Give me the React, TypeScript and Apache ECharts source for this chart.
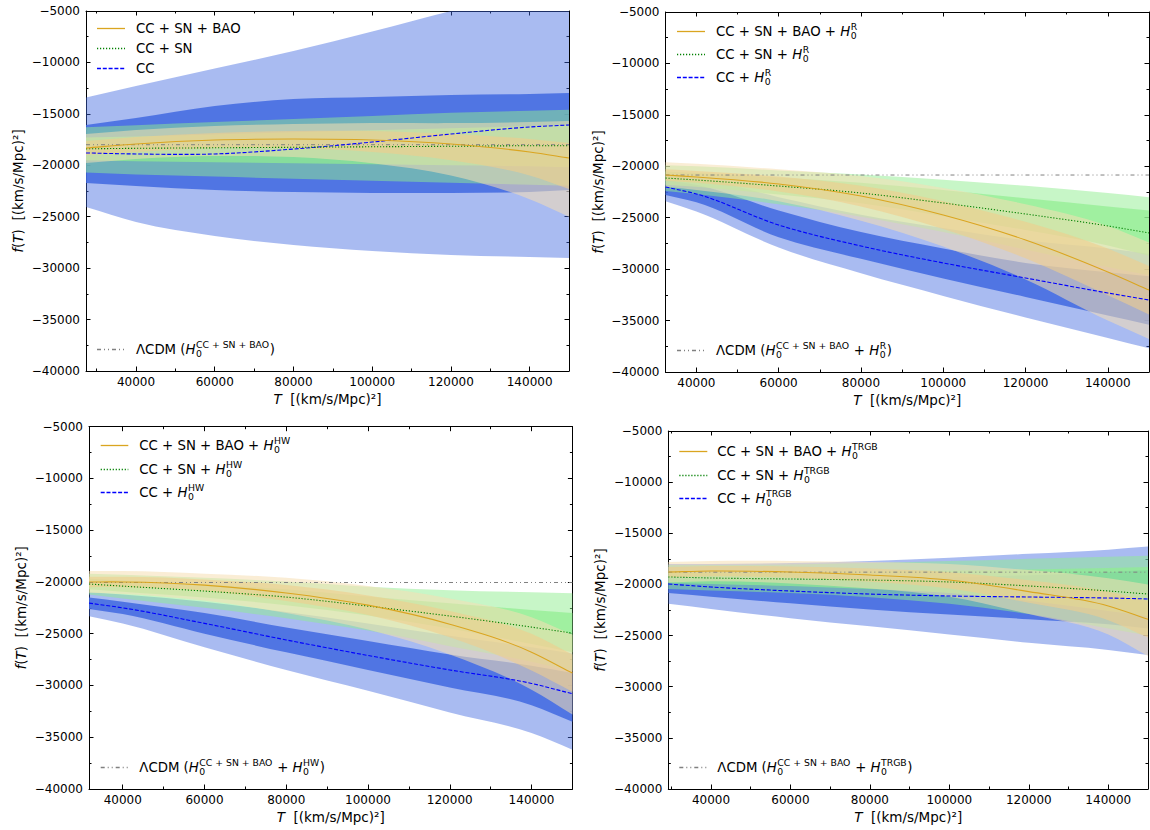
import React, { useEffect, useRef } from 'react';
import * as echarts from 'echarts';

// ---------------- tick values ----------------
const X_MAJOR_TICKS = [40000, 60000, 80000, 100000, 120000, 140000];
const X_MINOR_TICKS = [30000, 50000, 70000, 90000, 110000, 130000, 150000];
const X_MAX = 150000;
const Y_MIN = -40000;
const Y_MAX = -5000;
const Y_STEP = 5000;

// ---------------- Panel 1: CC / CC+SN / CC+SN+BAO ----------------
const T_P1 = [27300, 40000, 60000, 80000, 100000, 120000, 140000, 150000];
const P1_CC_MEAN = [-18800, -18900, -18900, -18420, -17740, -16960, -16280, -16080];
const P1_CC_HI1 = [-16080, -15400, -14240, -13560, -13360, -13170, -13070, -12970];
const P1_CC_LO1 = [-21720, -22010, -22400, -22600, -22690, -22690, -22600, -22400];
const P1_CC_HI2 = [-13400, -12300, -10600, -8900, -7000, -5000, -3300, -2500];
const P1_CC_LO2 = [-24050, -25510, -26870, -27750, -28330, -28720, -28920, -29010];
const P1_SN_MEAN = [-18400, -18350, -18300, -18250, -18200, -18150, -18100, -18100];
const P1_SN_HI1 = [-17300, -17200, -17000, -16800, -16600, -16400, -16200, -16100];
const P1_SN_LO1 = [-19500, -19600, -19700, -19800, -19900, -20000, -20100, -20200];
const P1_SN_HI2 = [-16300, -16100, -15800, -15500, -15200, -14900, -14700, -14600];
const P1_SN_LO2 = [-20700, -20900, -21100, -21300, -21500, -21700, -21900, -22000];
const P1_BAO_MEAN = [-18320, -17930, -17540, -17450, -17540, -17930, -18710, -19290];
const P1_BAO_HI1 = [-17640, -17250, -16860, -16670, -16670, -16960, -17440, -17830];
const P1_BAO_LO1 = [-19000, -18710, -18320, -18350, -18700, -19500, -21000, -22300];
const P1_BAO_HI2 = [-16960, -16570, -16180, -15990, -15890, -15900, -15800, -15700];
const P1_BAO_LO2 = [-19780, -19390, -19100, -19200, -19800, -21000, -23300, -25000];
const P1_LCDM = -18000;

// ---------------- Panel 2: + H0^R ----------------
const T_P2 = [32500, 40000, 60000, 80000, 100000, 120000, 140000, 150000];
const P2_CC_MEAN = [-22010, -22690, -25710, -27750, -29400, -30860, -32320, -33000];
const P2_CC_HI1 = [-21300, -21800, -24300, -26400, -28000, -29400, -30300, -30700];
const P2_CC_LO1 = [-22800, -23500, -26900, -29000, -30900, -32700, -34500, -35400];
const P2_CC_HI2 = [-20800, -21100, -23000, -24700, -26000, -27200, -28000, -28500];
const P2_CC_LO2 = [-23400, -24400, -27900, -30400, -32600, -34700, -36700, -37700];
const P2_SN_MEAN = [-21140, -21330, -21920, -22600, -23570, -24640, -25800, -26480];
const P2_SN_HI1 = [-20500, -20650, -21100, -21600, -22300, -23100, -23900, -24300];
const P2_SN_LO1 = [-21800, -22000, -22750, -23600, -24850, -26200, -27700, -28700];
const P2_SN_HI2 = [-19900, -20000, -20400, -20800, -21300, -21900, -22600, -23000];
const P2_SN_LO2 = [-22400, -22700, -23700, -24900, -26400, -28100, -29800, -30600];
const P2_BAO_MEAN = [-20850, -21040, -21720, -22890, -24740, -27170, -30280, -32030];
const P2_BAO_HI1 = [-20300, -20450, -21000, -21900, -23400, -25400, -28000, -29700];
const P2_BAO_LO1 = [-21400, -21600, -22450, -23900, -26100, -28950, -32550, -34400];
const P2_BAO_HI2 = [-19600, -19750, -20300, -20950, -22100, -23700, -25800, -27400];
const P2_BAO_LO2 = [-22000, -22300, -23400, -25300, -27800, -31000, -35000, -36800];
const P2_LCDM = -20850;

// ---------------- Panel 3: + H0^HW ----------------
const T_P3 = [31750, 40000, 60000, 80000, 100000, 120000, 140000, 150000];
const P3_CC_MEAN = [-22040, -22500, -24000, -25600, -27100, -28500, -29800, -30800];
const P3_CC_HI1 = [-21500, -21900, -23000, -24400, -25700, -27000, -28100, -28800];
const P3_CC_LO1 = [-22600, -23100, -25000, -26800, -28500, -30200, -31900, -33500];
const P3_CC_HI2 = [-21000, -21200, -21900, -22900, -24000, -25200, -26300, -26900];
const P3_CC_LO2 = [-23300, -24000, -26300, -28500, -30500, -32600, -34600, -36200];
const P3_SN_MEAN = [-20200, -20400, -20880, -21460, -22330, -23290, -24360, -24940];
const P3_SN_HI1 = [-19700, -19850, -20250, -20700, -21400, -22050, -22700, -23000];
const P3_SN_LO1 = [-20700, -20950, -21500, -22250, -23250, -24500, -26000, -26800];
const P3_SN_HI2 = [-19200, -19300, -19600, -19950, -20450, -20800, -21000, -21100];
const P3_SN_LO2 = [-21200, -21600, -22500, -23500, -24700, -26200, -27700, -28600];
const P3_BAO_MEAN = [-20000, -20000, -20300, -21070, -22240, -24080, -26780, -28800];
const P3_BAO_HI1 = [-19500, -19500, -19750, -20300, -21300, -22800, -25000, -27000];
const P3_BAO_LO1 = [-20500, -20500, -20850, -21850, -23200, -25350, -28550, -30600];
const P3_BAO_HI2 = [-18950, -18950, -19200, -19600, -20400, -21600, -23400, -25100];
const P3_BAO_LO2 = [-21050, -21150, -21800, -23000, -24600, -27000, -30400, -32800];
const P3_LCDM = -20050;

// ---------------- Panel 4: + H0^TRGB ----------------
const T_P4 = [29260, 40000, 60000, 80000, 100000, 120000, 140000, 150000];
const P4_CC_MEAN = [-19960, -20250, -20640, -20940, -21130, -21230, -21330, -21420];
const P4_CC_HI1 = [-19100, -19250, -19400, -19400, -19300, -19100, -18800, -18600];
const P4_CC_LO1 = [-20850, -21200, -21850, -22450, -22950, -23400, -23900, -24300];
const P4_CC_HI2 = [-18000, -18000, -17900, -17700, -17400, -17000, -16600, -16300];
const P4_CC_LO2 = [-21900, -22400, -23300, -24100, -24900, -25700, -26400, -26900];
const P4_SN_MEAN = [-19270, -19370, -19470, -19570, -19760, -20150, -20640, -20940];
const P4_SN_HI1 = [-18700, -18750, -18750, -18700, -18650, -18550, -18400, -18300];
const P4_SN_LO1 = [-19850, -19950, -20150, -20450, -20850, -21600, -22600, -23100];
const P4_SN_HI2 = [-18100, -18100, -18050, -17900, -17700, -17500, -17300, -17200];
const P4_SN_LO2 = [-20450, -20600, -20850, -21250, -21900, -22900, -24300, -25000];
const P4_BAO_MEAN = [-18790, -18690, -18790, -19080, -19570, -20700, -22100, -23400];
const P4_BAO_HI1 = [-18300, -18200, -18250, -18450, -18800, -19600, -20700, -21600];
const P4_BAO_LO1 = [-19300, -19200, -19350, -19750, -20400, -21800, -23500, -25200];
const P4_BAO_HI2 = [-17800, -17700, -17700, -17800, -18000, -18600, -19400, -20000];
const P4_BAO_LO2 = [-19800, -19700, -19900, -20400, -21200, -22900, -24900, -27000];
const P4_LCDM = -18800;

// ---------------- styling ----------------
const FONT = '"DejaVu Sans", sans-serif';
const COL = {
  blueLine: '#0000ff',
  greenLine: '#008000',
  orangeLine: '#daa520',
  lcdm: '#808080',
  blue2: 'rgba(65,105,225,0.45)',
  blue1: 'rgba(65,105,225,0.85)',
  green2: 'rgba(144,238,144,0.5)',
  green1: 'rgba(144,238,144,0.7)',
  orange2: 'rgba(245,222,179,0.55)',
  orange1: 'rgba(240,205,140,0.6)',
};
const DASH_BLUE = [4, 1.8];
const DOT_GREEN = [1.2, 1.8];
const DASH_LCDM = [4, 3, 1, 3, 1, 3];

type DS = { mean: number[]; hi1: number[]; lo1: number[]; hi2: number[]; lo2: number[] };
type Seg = string | { sup: string; sub: string };
type Panel = {
  T: number[];
  cc: DS;
  sn: DS;
  bao: DS;
  lcdm: number;
  grid: { left: number; top: number; width: number; height: number };
  leg: { hx1: number; hx2: number; tx: number; rows: number[]; ly: number };
  labels: Seg[][];
  lcdmLabel: Seg[];
};

const H = (sup: string): Seg => ({ sup, sub: '0' });

const PANELS: Panel[] = [
  {
    T: T_P1,
    cc: { mean: P1_CC_MEAN, hi1: P1_CC_HI1, lo1: P1_CC_LO1, hi2: P1_CC_HI2, lo2: P1_CC_LO2 },
    sn: { mean: P1_SN_MEAN, hi1: P1_SN_HI1, lo1: P1_SN_LO1, hi2: P1_SN_HI2, lo2: P1_SN_LO2 },
    bao: { mean: P1_BAO_MEAN, hi1: P1_BAO_HI1, lo1: P1_BAO_LO1, hi2: P1_BAO_HI2, lo2: P1_BAO_LO2 },
    lcdm: P1_LCDM,
    grid: { left: 86, top: 11, width: 483, height: 360 },
    leg: { hx1: 97, hx2: 125, tx: 136, rows: [28.5, 48.5, 68.5], ly: 349.5 },
    labels: [['CC + SN + BAO'], ['CC + SN'], ['CC']],
    lcdmLabel: ['\u039BCDM (', H('CC + SN + BAO'), ')'],
  },
  {
    T: T_P2,
    cc: { mean: P2_CC_MEAN, hi1: P2_CC_HI1, lo1: P2_CC_LO1, hi2: P2_CC_HI2, lo2: P2_CC_LO2 },
    sn: { mean: P2_SN_MEAN, hi1: P2_SN_HI1, lo1: P2_SN_LO1, hi2: P2_SN_HI2, lo2: P2_SN_LO2 },
    bao: { mean: P2_BAO_MEAN, hi1: P2_BAO_HI1, lo1: P2_BAO_LO1, hi2: P2_BAO_HI2, lo2: P2_BAO_LO2 },
    lcdm: P2_LCDM,
    grid: { left: 665.5, top: 12, width: 483.5, height: 360 },
    leg: { hx1: 677, hx2: 705, tx: 716, rows: [31.5, 54.5, 77.5], ly: 350.5 },
    labels: [['CC + SN + BAO + ', H('R')], ['CC + SN + ', H('R')], ['CC + ', H('R')]],
    lcdmLabel: ['\u039BCDM (', H('CC + SN + BAO'), ' + ', H('R'), ')'],
  },
  {
    T: T_P3,
    cc: { mean: P3_CC_MEAN, hi1: P3_CC_HI1, lo1: P3_CC_LO1, hi2: P3_CC_HI2, lo2: P3_CC_LO2 },
    sn: { mean: P3_SN_MEAN, hi1: P3_SN_HI1, lo1: P3_SN_LO1, hi2: P3_SN_HI2, lo2: P3_SN_LO2 },
    bao: { mean: P3_BAO_MEAN, hi1: P3_BAO_HI1, lo1: P3_BAO_LO1, hi2: P3_BAO_HI2, lo2: P3_BAO_LO2 },
    lcdm: P3_LCDM,
    grid: { left: 89, top: 426.7, width: 483.4, height: 362.3 },
    leg: { hx1: 100.7, hx2: 128.3, tx: 139.3, rows: [445.5, 469.5, 492.5], ly: 767.5 },
    labels: [['CC + SN + BAO + ', H('HW')], ['CC + SN + ', H('HW')], ['CC + ', H('HW')]],
    lcdmLabel: ['\u039BCDM (', H('CC + SN + BAO'), ' + ', H('HW'), ')'],
  },
  {
    T: T_P4,
    cc: { mean: P4_CC_MEAN, hi1: P4_CC_HI1, lo1: P4_CC_LO1, hi2: P4_CC_HI2, lo2: P4_CC_LO2 },
    sn: { mean: P4_SN_MEAN, hi1: P4_SN_HI1, lo1: P4_SN_LO1, hi2: P4_SN_HI2, lo2: P4_SN_LO2 },
    bao: { mean: P4_BAO_MEAN, hi1: P4_BAO_HI1, lo1: P4_BAO_LO1, hi2: P4_BAO_HI2, lo2: P4_BAO_LO2 },
    lcdm: P4_LCDM,
    grid: { left: 668.3, top: 431, width: 479.7, height: 358 },
    leg: { hx1: 679.3, hx2: 707.3, tx: 717.3, rows: [451.5, 475.5, 498.5], ly: 767.5 },
    labels: [['CC + SN + BAO + ', H('TRGB')], ['CC + SN + ', H('TRGB')], ['CC + ', H('TRGB')]],
    lcdmLabel: ['\u039BCDM (', H('CC + SN + BAO'), ' + ', H('TRGB'), ')'],
  },
];

// ---------------- helpers ----------------
let measureCtx: CanvasRenderingContext2D | null = null;
function tw(text: string, size: number, italic = false): number {
  if (!measureCtx) measureCtx = document.createElement('canvas').getContext('2d');
  if (!measureCtx) return text.length * size * 0.6;
  measureCtx.font = `${italic ? 'italic ' : ''}${size}px ${FONT}`;
  return measureCtx.measureText(text).width;
}

function txt(x: number, y: number, text: string, size: number, italic: boolean) {
  return {
    type: 'text',
    x,
    y,
    silent: true,
    z: 100,
    style: {
      text,
      fill: '#000',
      font: `${italic ? 'italic ' : ''}${size}px ${FONT}`,
      textAlign: 'left',
      textVerticalAlign: 'middle',
    },
  };
}

function label(x: number, y: number, segs: Seg[], size = 13.3): any[] {
  const out: any[] = [];
  let cx = x;
  const small = size * 0.7;
  for (const s of segs) {
    if (typeof s === 'string') {
      out.push(txt(cx, y, s, size, false));
      cx += tw(s, size);
    } else {
      out.push(txt(cx, y, 'H', size, true));
      cx += tw('H', size, true) + 0.5;
      out.push(txt(cx, y + 4, s.sub, small, false));
      out.push(txt(cx, y - 5.5, s.sup, small, false));
      cx += Math.max(tw(s.sub, small), tw(s.sup, small)) + 0.5;
    }
  }
  return out;
}

function handle(x1: number, x2: number, y: number, color: string, dash?: number[]) {
  const style: any = { stroke: color, lineWidth: 1.3 };
  if (dash) style.lineDash = dash;
  return {
    type: 'line',
    silent: true,
    z: 100,
    shape: { x1, y1: y, x2, y2: y },
    style,
  };
}

const fmt = (v: number) => (v < 0 ? '\u2212' + Math.abs(v) : String(v));

// smooth (x-monotone cubic Hermite) path through screen points
function hermite(pts: number[][], moveFirst: boolean): string {
  const n = pts.length;
  const slope = (a: number[], b: number[]) => (b[1] - a[1]) / (b[0] - a[0]);
  const m: number[] = pts.map((p, i) => {
    if (i === 0) return slope(pts[0], pts[1]);
    if (i === n - 1) return slope(pts[n - 2], pts[n - 1]);
    const s1 = slope(pts[i - 1], pts[i]);
    const s2 = slope(pts[i], pts[i + 1]);
    const w1 = pts[i + 1][0] - pts[i][0];
    const w2 = pts[i][0] - pts[i - 1][0];
    return (s1 * w1 + s2 * w2) / (w1 + w2);
  });
  let d = (moveFirst ? 'M' : 'L') + pts[0][0].toFixed(2) + ' ' + pts[0][1].toFixed(2);
  for (let i = 0; i < n - 1; i++) {
    const a = pts[i];
    const b = pts[i + 1];
    const dx = b[0] - a[0];
    const c1 = [a[0] + dx / 3, a[1] + (m[i] * dx) / 3];
    const c2 = [b[0] - dx / 3, b[1] - (m[i + 1] * dx) / 3];
    d += ` C${c1[0].toFixed(2)} ${c1[1].toFixed(2)} ${c2[0].toFixed(2)} ${c2[1].toFixed(2)} ${b[0].toFixed(2)} ${b[1].toFixed(2)}`;
  }
  return d;
}

function bandSeries(gi: number, T: number[], lo: number[], hi: number[], color: string) {
  return {
    type: 'custom',
    xAxisIndex: gi * 4,
    yAxisIndex: gi * 2,
    clip: true,
    silent: true,
    data: [[T[0], lo[0]]],
    renderItem: (_params: any, api: any) => {
      const up = T.map((t, i) => api.coord([t, hi[i]]));
      const dn = T.map((t, i) => api.coord([t, lo[i]])).reverse();
      const d = hermite(up, true) + ' ' + hermite(dn, false) + ' Z';
      return { type: 'path', shape: { pathData: d }, style: { fill: color, stroke: null } };
    },
  };
}

function lineSeries(gi: number, T: number[], vals: number[], color: string, dash?: number[], width = 1.1) {
  return {
    type: 'custom',
    xAxisIndex: gi * 4,
    yAxisIndex: gi * 2,
    clip: true,
    silent: true,
    z: 3,
    data: [[T[0], vals[0]]],
    renderItem: (_params: any, api: any) => {
      const pts = T.map((t, i) => api.coord([t, vals[i]]));
      const style: any = { fill: null, stroke: color, lineWidth: width };
      if (dash) style.lineDash = dash;
      return { type: 'path', shape: { pathData: hermite(pts, true) }, style };
    },
  };
}

function buildOption() {
  const grids: any[] = [];
  const xAxes: any[] = [];
  const yAxes: any[] = [];
  const series: any[] = [];
  const graphics: any[] = [];
  const axisLine = { show: true, onZero: false, lineStyle: { color: '#000', width: 1 } };
  const nameStyle = {
    fontFamily: FONT,
    fontSize: 13.5,
    color: '#000',
    rich: { i: { fontStyle: 'italic', fontFamily: FONT, fontSize: 13.5, color: '#000' } },
  };

  PANELS.forEach((p, gi) => {
    grids.push({ ...p.grid, outerBoundsMode: 'none' });
    const xmin = p.T[0];
    const minor = X_MINOR_TICKS.filter((v) => v > xmin);
    const baseX = {
      type: 'value',
      gridIndex: gi,
      min: xmin,
      max: X_MAX,
      splitLine: { show: false },
    };
    xAxes.push({
      ...baseX,
      position: 'bottom',
      axisLine,
      axisTick: { show: true, inside: true, length: 4.5, customValues: X_MAJOR_TICKS, lineStyle: { color: '#000' } },
      axisLabel: {
        show: true,
        customValues: X_MAJOR_TICKS,
        formatter: fmt,
        color: '#000',
        fontSize: 12,
        fontFamily: FONT,
        margin: 5,
      },
      name: '{i|T}  [(km/s/Mpc)\u00B2]',
      nameLocation: 'middle',
      nameGap: 21,
      nameTextStyle: nameStyle,
    });
    xAxes.push({
      ...baseX,
      position: 'bottom',
      axisLine: { show: false },
      axisTick: { show: true, inside: true, length: 2.5, customValues: minor, lineStyle: { color: '#000' } },
      axisLabel: { show: false },
    });
    xAxes.push({
      ...baseX,
      position: 'top',
      axisLine,
      axisTick: { show: true, inside: true, length: 4.5, customValues: X_MAJOR_TICKS, lineStyle: { color: '#000' } },
      axisLabel: { show: false },
    });
    xAxes.push({
      ...baseX,
      position: 'top',
      axisLine: { show: false },
      axisTick: { show: true, inside: true, length: 2.5, customValues: minor, lineStyle: { color: '#000' } },
      axisLabel: { show: false },
    });
    const baseY = {
      type: 'value',
      gridIndex: gi,
      min: Y_MIN,
      max: Y_MAX,
      interval: Y_STEP,
      splitLine: { show: false },
      minorTick: { show: true, splitNumber: 2, length: 2.5, lineStyle: { color: '#000', width: 1 } },
      minorSplitLine: { show: false },
    };
    yAxes.push({
      ...baseY,
      position: 'left',
      axisLine,
      axisTick: { show: true, inside: true, length: 4.5, lineStyle: { color: '#000' } },
      axisLabel: { show: true, formatter: fmt, color: '#000', fontSize: 12, fontFamily: FONT, margin: 6 },
      name: '{i|f}({i|T})  [(km/s/Mpc)\u00B2]',
      nameLocation: 'middle',
      nameGap: 61,
      nameTextStyle: nameStyle,
    });
    yAxes.push({
      ...baseY,
      position: 'right',
      axisLine,
      axisTick: { show: true, inside: true, length: 4.5, lineStyle: { color: '#000' } },
      axisLabel: { show: false },
    });

    // bands
    series.push(bandSeries(gi, p.T, p.cc.lo2, p.cc.hi2, COL.blue2));
    series.push(bandSeries(gi, p.T, p.cc.lo1, p.cc.hi1, COL.blue1));
    series.push(bandSeries(gi, p.T, p.sn.lo2, p.sn.hi2, COL.green2));
    series.push(bandSeries(gi, p.T, p.sn.lo1, p.sn.hi1, COL.green1));
    series.push(bandSeries(gi, p.T, p.bao.lo2, p.bao.hi2, COL.orange2));
    series.push(bandSeries(gi, p.T, p.bao.lo1, p.bao.hi1, COL.orange1));
    // lines
    const Tends = [p.T[0], X_MAX];
    series.push(lineSeries(gi, Tends, [p.lcdm, p.lcdm], COL.lcdm, DASH_LCDM, 1));
    series.push(lineSeries(gi, p.T, p.cc.mean, COL.blueLine, DASH_BLUE));
    series.push(lineSeries(gi, p.T, p.sn.mean, COL.greenLine, DOT_GREEN));
    series.push(lineSeries(gi, p.T, p.bao.mean, COL.orangeLine));

    // legend
    const L = p.leg;
    const handles = [
      [COL.orangeLine, undefined],
      [COL.greenLine, DOT_GREEN],
      [COL.blueLine, DASH_BLUE],
    ] as [string, number[] | undefined][];
    p.labels.forEach((segs, r) => {
      graphics.push(handle(L.hx1, L.hx2, L.rows[r], handles[r][0], handles[r][1]));
      graphics.push(...label(L.tx, L.rows[r], segs));
    });
    graphics.push(handle(L.hx1, L.hx2, L.ly, COL.lcdm, DASH_LCDM));
    graphics.push(...label(L.tx, L.ly, p.lcdmLabel));
  });

  return {
    animation: false,
    backgroundColor: '#fff',
    textStyle: { fontFamily: FONT },
    grid: grids,
    xAxis: xAxes,
    yAxis: yAxes,
    series,
    graphic: graphics,
  };
}

export default function App() {
  const ref = useRef<HTMLDivElement>(null);
  useEffect(() => {
    if (!ref.current) return;
    const chart = echarts.init(ref.current, null, { renderer: 'svg' });
    chart.setOption(buildOption() as any);
    return () => chart.dispose();
  }, []);
  return (
    <div
      ref={ref}
      style={{ position: 'absolute', left: 0, top: 0, width: 1150, height: 830, background: '#fff' }}
    />
  );
}
